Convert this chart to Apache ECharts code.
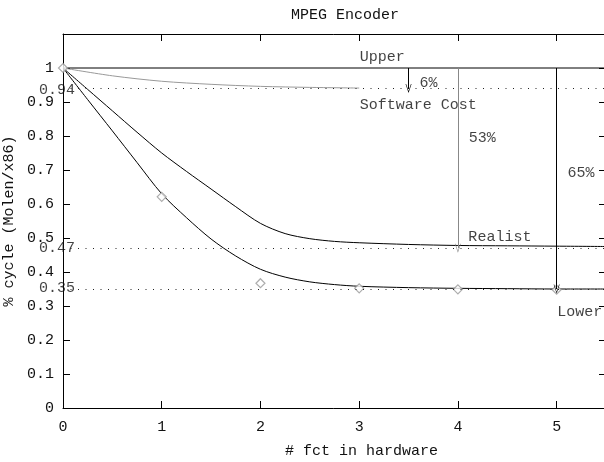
<!DOCTYPE html>
<html>
<head>
<meta charset="utf-8">
<script src="https://cdn.jsdelivr.net/npm/echarts@6/dist/echarts.min.js"></script>
<style>
  html, body { margin: 0; padding: 0; background: #fff; }
  #main { width: 604px; height: 462px; }
</style>
</head>
<body>
<div id="main"></div>
<script>
// curves: [x, y]
var upperData = [[0, 1], [5.5, 1]];
var softwareData = [[0, 1], [0.5, 0.977], [1, 0.961], [1.5, 0.952], [2, 0.946], [2.5, 0.943], [3, 0.941]];
var realistData = [[0, 1], [0.25, 0.937], [0.5, 0.874], [0.75, 0.811], [1, 0.75], [1.25, 0.696],
    [1.5, 0.644], [1.75, 0.592], [2, 0.543], [2.25, 0.513], [2.5, 0.498], [2.75, 0.49], [3, 0.486],
    [3.5, 0.481], [4, 0.478], [4.5, 0.477], [5, 0.476], [5.5, 0.475]];
var lowerData = [[0, 1], [0.25, 0.907], [0.5, 0.815], [0.75, 0.722], [1, 0.63], [1.25, 0.56],
    [1.5, 0.497], [1.75, 0.447], [2, 0.408], [2.25, 0.385], [2.5, 0.371], [2.75, 0.363], [3, 0.358],
    [3.5, 0.354], [4, 0.352], [4.5, 0.351], [5, 0.35], [5.5, 0.35]];
var measuredData = [[0, 1], [1, 0.621], [2, 0.367], [3, 0.352], [4, 0.349], [5, 0.348]];

// reference levels and the arrows between them
var levels = [0.94, 0.47, 0.35];
var arrows = [
    { x: 3.5, from: 1, to: 0.94, color: '#000' },
    { x: 4, from: 1, to: 0.47, color: '#888' },
    { x: 5, from: 1, to: 0.35, color: '#000' }
];

// text notes: [x, y, text]
var notes = [
    [3.006, 1.032, 'Upper'],
    [3.006, 0.891, 'Software Cost'],
    [3.61, 0.956, '6%'],
    [4.11, 0.794, '53%'],
    [5.11, 0.692, '65%'],
    [4.106, 0.504, 'Realist'],
    [5.007, 0.283, 'Lower'],
    [-0.243, 0.935, '0.94'],
    [-0.243, 0.47, '0.47'],
    [-0.243, 0.352, '0.35']
];

var FONT = 'Liberation Mono';
var chevron = 'path://M0,10 L5,0 L10,10 L9,10 L5,2 L1,10 Z';
var tickText = ['0', '0.1', '0.2', '0.3', '0.4', '0.5', '0.6', '0.7', '0.8', '0.9', '1', ''];

function levelLines() {
    var out = [];
    for (var i = 0; i < levels.length; i++) {
        out.push([{ coord: [0, levels[i]] }, { coord: [5.5, levels[i]] }]);
    }
    return out;
}

function arrowLines() {
    var out = [];
    for (var i = 0; i < arrows.length; i++) {
        var a = arrows[i];
        out.push([
            { coord: [a.x, a.from], lineStyle: { color: a.color, type: 'solid', width: 1 } },
            { coord: [a.x, a.to] }
        ]);
    }
    return out;
}

var chart = echarts.init(document.getElementById('main'));

var axisFont = { fontFamily: FONT, fontSize: 15, color: '#111' };

var option = {
    animation: false,
    title: {
        text: 'MPEG Encoder',
        left: 286,
        top: 3,
        textStyle: { fontFamily: FONT, fontSize: 15, fontWeight: 'normal', color: '#111' }
    },
    grid: { left: 63, top: 34, right: -2, bottom: 54, outerBoundsMode: 'none', containLabel: false },
    xAxis: [{
        type: 'value', min: 0, max: 5.5, interval: 1,
        name: '# fct in hardware', nameLocation: 'middle', nameGap: 36,
        nameTextStyle: { fontFamily: FONT, fontSize: 15, color: '#111', padding: [0, 0, 0, 54] },
        axisLine: { show: true, onZero: false, lineStyle: { color: '#000', width: 1 } },
        axisTick: { show: true, inside: true, length: 7, lineStyle: { color: '#000' } },
        axisLabel: Object.assign({ margin: 12, showMaxLabel: false, hideOverlap: false }, axisFont),
        splitLine: { show: false }
    }, {
        type: 'value', min: 0, max: 5.5, interval: 1, position: 'top',
        axisLine: { show: true, onZero: false, lineStyle: { color: '#000', width: 1 } },
        axisTick: { show: true, inside: true, length: 7, lineStyle: { color: '#000' } },
        axisLabel: { show: false },
        splitLine: { show: false }
    }],
    yAxis: [{
        type: 'value', min: 0, max: 1.1, interval: 0.1,
        name: '% cycle (Molen/x86)', nameLocation: 'middle', nameGap: 39, nameRotate: 90,
        nameTextStyle: { fontFamily: FONT, fontSize: 15, color: '#111' },
        axisLine: { show: true, onZero: false, lineStyle: { color: '#000', width: 1 } },
        axisTick: { show: true, inside: true, length: 7, lineStyle: { color: '#000' } },
        axisLabel: Object.assign({
            margin: 9, showMinLabel: true, showMaxLabel: true, hideOverlap: false,
            formatter: function (v) {
                var t = tickText[Math.round(v * 10)];
                return t === undefined ? '' : t;
            }
        }, axisFont),
        splitLine: { show: false }
    }, {
        type: 'value', min: 0, max: 1.1, interval: 0.1, position: 'right',
        axisLine: { show: true, onZero: false, lineStyle: { color: '#000', width: 1 } },
        axisTick: { show: true, inside: true, length: 7, lineStyle: { color: '#000' } },
        axisLabel: { show: false },
        splitLine: { show: false }
    }],
    series: [{
        name: 'Upper', type: 'line', data: upperData, showSymbol: false,
        lineStyle: { color: '#000', width: 1 }, z: 3
    }, {
        name: 'Software Cost', type: 'line', data: softwareData, smooth: 0.3,
        showSymbol: false, lineStyle: { color: '#999', width: 1 }, z: 3
    }, {
        name: 'Realist', type: 'line', data: realistData, smooth: 0.3,
        showSymbol: false, lineStyle: { color: '#000', width: 1 }, z: 3,
        markLine: {
            silent: true, symbol: ['none', 'none'],
            lineStyle: { color: '#222', type: [1, 6.5], width: 1 },
            label: { show: false },
            data: levelLines()
        }
    }, {
        name: 'Lower', type: 'line', data: lowerData, smooth: 0.3,
        showSymbol: false, lineStyle: { color: '#000', width: 1 }, z: 3,
        markLine: {
            silent: true, symbol: ['none', chevron], symbolSize: [6, 9],
            label: { show: false },
            data: arrowLines()
        }
    }, {
        name: 'measured', type: 'scatter', data: measuredData,
        symbol: 'diamond', symbolSize: 9,
        itemStyle: { color: '#fff', borderColor: '#999', borderWidth: 1.2 }, z: 4
    }, {
        name: 'notes', type: 'scatter', data: notes, clip: false,
        symbolSize: 0, silent: true,
        labelLayout: { hideOverlap: false },
        label: {
            show: true, position: 'right', distance: 0,
            fontFamily: FONT, fontSize: 15, color: '#111',
            formatter: function (p) { return p.data[2]; }
        }, z: 5
    }]
};

chart.setOption(option);
</script>
</body>
</html>
